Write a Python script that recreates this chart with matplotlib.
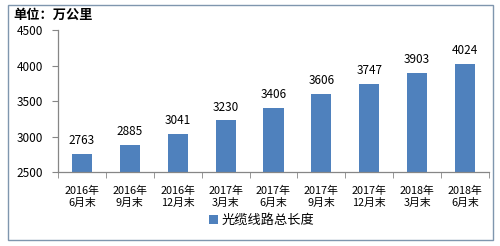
import matplotlib
matplotlib.use("Agg")
import matplotlib.pyplot as plt
from matplotlib.patches import Rectangle

plt.rcParams['font.family'] = ['Noto Sans CJK SC', 'DejaVu Sans']

periods = ["2016年\n6月末", "2016年\n9月末", "2016年\n12月末", "2017年\n3月末",
           "2017年\n6月末", "2017年\n9月末", "2017年\n12月末", "2018年\n3月末",
           "2018年\n6月末"]
lengths = [2763, 2885, 3041, 3230, 3406, 3606, 3747, 3903, 4024]
yticks = [2500, 3000, 3500, 4000, 4500]

bar_color = "#4F81BD"
axis_color = "#868686"

fig = plt.figure(figsize=(5.0, 2.46), dpi=100)
ax = fig.add_axes([0.116, 0.299, 0.862, 0.579])

x = list(range(len(periods)))
bars = ax.bar(x, lengths, width=0.42, color=bar_color, label="光缆线路总长度", zorder=2)

for xi, v in zip(x, lengths):
    ax.annotate(str(v), (xi, v), xytext=(0, 5), textcoords="offset points",
                ha="center", va="bottom", fontsize=8.5, color="#000000")

ax.set_xlim(-0.5, len(periods) - 0.5)
ax.set_ylim(2500, 4500)
ax.set_yticks(yticks)
ax.set_yticklabels([str(t) for t in yticks], fontsize=8.5)

# category labels centered, tick marks on the boundaries
ax.set_xticks(x)
ax.set_xticklabels(periods, fontsize=7.8, linespacing=1.3)
ax.tick_params(axis="x", which="major", length=0, pad=9.5)
ax.set_xticks([i - 0.5 for i in range(len(periods) + 1)], minor=True)
ax.tick_params(axis="x", which="minor", length=4, color=axis_color, direction="out")
ax.tick_params(axis="y", length=4, color=axis_color, direction="out", pad=7)

for side in ["top", "right"]:
    ax.spines[side].set_visible(False)
for side in ["left", "bottom"]:
    ax.spines[side].set_color(axis_color)
    ax.spines[side].set_linewidth(0.9)

fig.text(0.026, 0.938, "单位：万公里", fontsize=9.5, fontweight="bold", ha="left", va="center")

fig.legend(handles=[bars], loc="center", bbox_to_anchor=(0.523, 0.103), frameon=False,
           fontsize=9.5, handlelength=0.7, handleheight=0.7, handletextpad=0.3)

fig.patches.append(Rectangle((0.016, 0.024), 0.97, 0.955, transform=fig.transFigure,
                             fill=False, edgecolor="#7F96AE", linewidth=1.0))

fig.savefig("out.png", dpi=100)
